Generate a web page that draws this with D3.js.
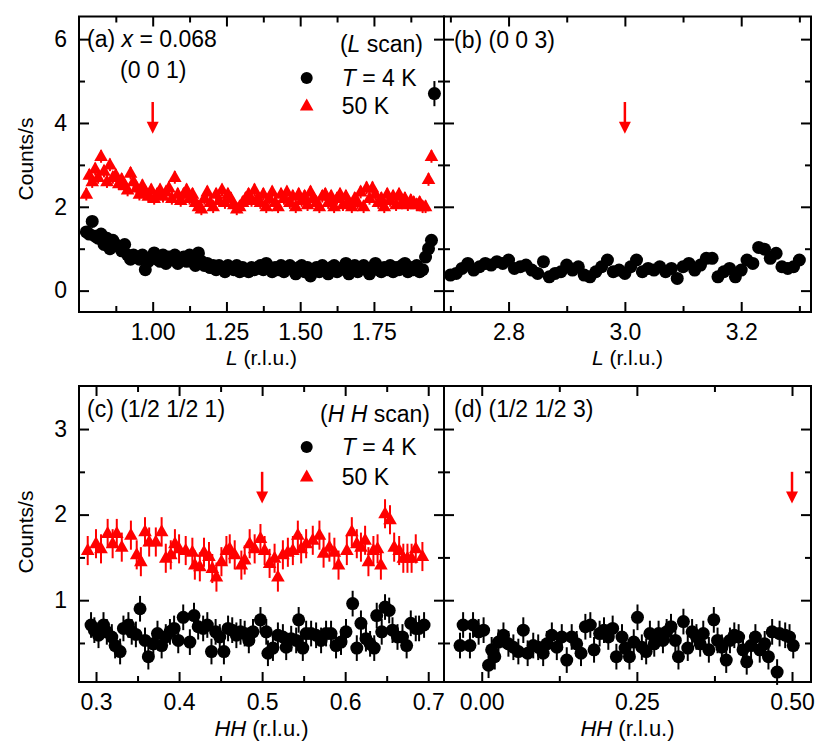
<!DOCTYPE html>
<html lang="en">
<head>
<meta charset="UTF-8">
<title>Counts vs L and HH</title>
<script src="https://d3js.org/d3.v7.min.js"></script>
<style>
  body { margin: 0; background: #fff; }
  svg text { font-family: "Liberation Sans", Arial, sans-serif; fill: #000; }
</style>
</head>
<body>
<svg id="chart" width="830" height="745"></svg>
<script>
// ---- data ----

// (a) L scan through (0 0 1), one point every 0.01 r.l.u. from L = 0.775
const aStart = 0.775, aStep = 0.01;
const a4K = [
  1.40, 1.35, 1.65, 1.30, 1.25, 1.35, 1.10, 1.25, 1.00, 1.20,
  1.10, 1.05, 0.95, 1.10, 0.85, 0.75, 0.85, 0.80, 0.75, 0.85,
  0.50, 0.70, 0.80, 0.90, 0.75, 0.70, 0.85, 0.65, 0.80, 0.75,
  0.85, 0.65, 0.75, 0.80, 0.70, 0.85, 0.70, 0.60, 0.90, 0.70,
  0.60, 0.65, 0.55, 0.60, 0.50, 0.60, 0.55, 0.45, 0.60, 0.55,
  0.50, 0.60, 0.45, 0.55, 0.50, 0.45, 0.55, 0.50, 0.55, 0.60,
  0.50, 0.65, 0.55, 0.45, 0.55, 0.50, 0.60, 0.45, 0.55, 0.60,
  0.50, 0.40, 0.55, 0.60, 0.45, 0.55, 0.35, 0.50, 0.55, 0.45,
  0.60, 0.50, 0.40, 0.55, 0.60, 0.45, 0.50, 0.55, 0.65, 0.40,
  0.50, 0.60, 0.45, 0.55, 0.60, 0.50, 0.40, 0.55, 0.65, 0.50,
  0.45, 0.55, 0.50, 0.60, 0.45, 0.55, 0.50, 0.60, 0.65, 0.45,
  0.55, 0.50, 0.60, 0.45, 0.50, 0.80, 1.00, 1.20, 4.70
];
const a50K = [
  2.30, 2.75, 2.60, 2.90, 2.70, 3.20, 2.85, 2.60, 3.00, 2.70,
  2.75, 2.55, 2.65, 2.50, 2.40, 2.80, 2.60, 2.45, 2.30, 2.50,
  2.35, 2.25, 2.40, 2.20, 2.30, 2.40, 2.25, 2.35, 2.45, 2.20,
  2.70, 2.30, 2.15, 2.30, 2.40, 2.20, 2.30, 2.10, 2.00, 1.95,
  2.20, 2.35, 2.10, 2.00, 2.30, 2.15, 2.40, 2.10, 2.30, 2.20,
  2.05, 1.95, 2.00, 2.10, 2.20, 2.30, 2.15, 2.40, 2.20, 2.10,
  2.30, 2.00, 2.20, 2.35, 2.10, 2.00, 2.30, 2.20, 2.35, 2.10,
  2.25, 2.00, 2.30, 2.15, 2.25, 2.05, 2.35, 2.20, 2.10, 2.00,
  2.25, 2.30, 2.10, 2.25, 2.00, 2.20, 2.30, 2.05, 2.25, 2.10,
  2.00, 2.20, 2.10, 2.35, 2.00, 2.45, 2.20, 2.45, 2.30, 2.10,
  2.20, 2.00, 2.30, 2.15, 2.25, 2.05, 2.30, 2.10, 2.20, 2.05,
  2.15, 2.10, 2.05, 2.10, 2.00, 2.00, 2.65, 3.20
];
const a4KErr = 0.12, a50KErr = 0.15;
const a4KBigErr = { 118: 0.3 }; // the stray last point

// (b) L scan through (0 0 3), 4 K only, every 0.01 r.l.u. from L = 2.70
const bStart = 2.70, bStep = 0.01;
const b4K = [
  0.37, 0.41, 0.53, 0.65, 0.49, 0.57, 0.65, 0.61, 0.69, 0.65,
  0.73, 0.53, 0.57, 0.61, 0.49, 0.41, 0.69, 0.33, 0.41, 0.45,
  0.61, 0.49, 0.57, 0.37, 0.33, 0.45, 0.57, 0.73, 0.45, 0.49,
  0.41, 0.57, 0.73, 0.45, 0.53, 0.49, 0.57, 0.45, 0.53, 0.29,
  0.57, 0.65, 0.49, 0.61, 0.77, 0.77, 0.33, 0.45, 0.53, 0.33,
  0.49, 0.73, 0.65, 1.03, 0.99, 0.77, 0.89, 0.57, 0.53, 0.57,
  0.73
];
const b4KErr = 0.1;

// (c) HH scan through (1/2 1/2 1): [HH, counts/s]
const c4K = [
  [0.294, 0.71], [0.298, 0.65], [0.303, 0.59], [0.309, 0.71], [0.313, 0.63],
  [0.319, 0.57], [0.323, 0.47], [0.329, 0.40], [0.333, 0.67], [0.339, 0.71],
  [0.343, 0.63], [0.348, 0.60], [0.353, 0.90], [0.359, 0.53], [0.363, 0.34],
  [0.369, 0.49], [0.374, 0.61], [0.379, 0.47], [0.384, 0.57], [0.389, 0.63],
  [0.394, 0.67], [0.399, 0.53], [0.405, 0.80], [0.413, 0.51], [0.418, 0.82],
  [0.423, 0.69], [0.429, 0.67], [0.434, 0.71], [0.439, 0.40], [0.444, 0.63],
  [0.449, 0.57], [0.454, 0.40], [0.459, 0.67], [0.464, 0.65], [0.469, 0.59],
  [0.474, 0.63], [0.479, 0.61], [0.484, 0.53], [0.489, 0.63], [0.498, 0.77],
  [0.505, 0.63], [0.507, 0.38], [0.513, 0.44], [0.519, 0.59], [0.525, 0.57],
  [0.529, 0.45], [0.535, 0.55], [0.541, 0.53], [0.544, 0.77], [0.549, 0.44],
  [0.553, 0.61], [0.559, 0.61], [0.565, 0.59], [0.571, 0.53], [0.577, 0.61],
  [0.583, 0.61], [0.589, 0.47], [0.595, 0.51], [0.601, 0.63], [0.609, 0.96],
  [0.614, 0.44], [0.619, 0.73], [0.625, 0.55], [0.630, 0.49], [0.635, 0.44],
  [0.638, 0.82], [0.644, 0.63], [0.648, 0.92], [0.653, 0.88], [0.657, 0.65],
  [0.663, 0.57], [0.669, 0.57], [0.674, 0.47], [0.679, 0.73], [0.685, 0.67],
  [0.689, 0.67], [0.695, 0.71]
];
const c50K = [
  [0.290, 1.58], [0.300, 1.66], [0.306, 1.60], [0.314, 1.78], [0.320, 1.66],
  [0.325, 1.78], [0.331, 1.62], [0.342, 1.76], [0.349, 1.53], [0.354, 1.45],
  [0.359, 1.80], [0.364, 1.68], [0.372, 1.68], [0.379, 1.80], [0.384, 1.49],
  [0.390, 1.53], [0.395, 1.66], [0.400, 1.60], [0.408, 1.58], [0.416, 1.56],
  [0.419, 1.41], [0.425, 1.39], [0.430, 1.56], [0.436, 1.51], [0.440, 1.37],
  [0.445, 1.27], [0.451, 1.45], [0.457, 1.58], [0.461, 1.60], [0.467, 1.53],
  [0.475, 1.41], [0.479, 1.47], [0.485, 1.66], [0.491, 1.60], [0.498, 1.72],
  [0.503, 1.58], [0.509, 1.43], [0.515, 1.49], [0.519, 1.27], [0.525, 1.53],
  [0.531, 1.56], [0.537, 1.58], [0.543, 1.76], [0.547, 1.60], [0.553, 1.66],
  [0.561, 1.70], [0.569, 1.76], [0.574, 1.55], [0.581, 1.62], [0.587, 1.56],
  [0.592, 1.41], [0.602, 1.58], [0.608, 1.80], [0.614, 1.66], [0.619, 1.62],
  [0.624, 1.70], [0.628, 1.45], [0.634, 1.58], [0.639, 1.60], [0.643, 1.41],
  [0.648, 2.01], [0.654, 1.94], [0.659, 1.62], [0.665, 1.58], [0.670, 1.49],
  [0.675, 1.49], [0.680, 1.49], [0.685, 1.60], [0.693, 1.51]
];
const c4KErr = 0.15, c50KErr = 0.17;

// (d) HH scan through (1/2 1/2 3), 4 K only: [HH, counts/s]
const d4K = [
  [-0.035, 0.47], [-0.030, 0.71], [-0.019, 0.47], [-0.014, 0.71], [-0.005, 0.63],
  [0.003, 0.65], [0.011, 0.24], [0.016, 0.42], [0.021, 0.34], [0.027, 0.51],
  [0.035, 0.59], [0.043, 0.49], [0.051, 0.45], [0.059, 0.40], [0.067, 0.65],
  [0.074, 0.38], [0.083, 0.47], [0.091, 0.45], [0.099, 0.38], [0.105, 0.49],
  [0.113, 0.59], [0.121, 0.45], [0.129, 0.57], [0.137, 0.30], [0.145, 0.57],
  [0.153, 0.49], [0.160, 0.38], [0.167, 0.69], [0.175, 0.71], [0.181, 0.42],
  [0.190, 0.61], [0.197, 0.65], [0.204, 0.57], [0.211, 0.67], [0.217, 0.34],
  [0.226, 0.57], [0.231, 0.44], [0.238, 0.34], [0.245, 0.51], [0.251, 0.80],
  [0.258, 0.45], [0.265, 0.40], [0.271, 0.61], [0.278, 0.49], [0.285, 0.61],
  [0.292, 0.53], [0.298, 0.63], [0.305, 0.69], [0.312, 0.53], [0.317, 0.34],
  [0.325, 0.75], [0.332, 0.44], [0.339, 0.63], [0.346, 0.57], [0.352, 0.49],
  [0.357, 0.61], [0.366, 0.42], [0.374, 0.77], [0.380, 0.53], [0.387, 0.45],
  [0.394, 0.30], [0.400, 0.53], [0.407, 0.59], [0.414, 0.57], [0.421, 0.42],
  [0.427, 0.28], [0.434, 0.47], [0.441, 0.57], [0.448, 0.42], [0.456, 0.49],
  [0.462, 0.34], [0.468, 0.63], [0.476, 0.16], [0.480, 0.61], [0.489, 0.59],
  [0.496, 0.57], [0.502, 0.47]
];
const d4KErr = 0.15;

// red arrows: [position, top of shaft, tip] in data units
const arrowA = [1.0, 4.5, 3.74];
const arrowB = [3.0, 4.5, 3.74];
const arrowC = [0.5, 2.5, 2.13];
const arrowD = [0.5, 2.5, 2.13];

// tick values
const aTicks = [1.00, 1.25, 1.50, 1.75], aMinor = [0.875, 1.125, 1.375, 1.625, 1.875];
const bTicks = [2.8, 3.0, 3.2], bMinor = [2.7, 2.9, 3.1, 3.3];
const cTicks = [0.3, 0.4, 0.5, 0.6, 0.7], cMinor = [0.35, 0.45, 0.55, 0.65];
const dTicks = [0.00, 0.25, 0.50], dMinor = [0.125, 0.375];
const topYTicks = [0, 2, 4, 6], topYMinor = [1, 3, 5];
const botYTicks = [1, 2, 3], botYMinor = [0.5, 1.5, 2.5];

// ---- drawing ----
const svg = d3.select('#chart');
const RED = '#ff0000';
const triPath = 'M0,-7.5L6.8,4.5L-6.8,4.5Z';
const R = 6.5;

function addAxis(axisFn, scale, transform, major, minor, fmt, pad) {
  const ax = axisFn(scale).tickValues(major).tickSize(-10).tickPadding(pad)
    .tickFormat(fmt ? d3.format(fmt) : '');
  const g = svg.append('g').attr('transform', transform).call(ax);
  const axm = axisFn(scale).tickValues(minor).tickSize(-6).tickFormat('');
  const gm = svg.append('g').attr('transform', transform).call(axm);
  [g, gm].forEach(s => {
    s.select('.domain').remove();
    s.selectAll('line').attr('stroke', '#000').attr('stroke-width', 2);
    s.selectAll('text').attr('font-size', 23).attr('fill', '#000')
      .style('font-family', '"Liberation Sans", Arial, sans-serif');
  });
}

function drawPanel(p) {
  const x = d3.scaleLinear().domain(p.xDomain).range([p.left, p.right]);
  const y = d3.scaleLinear().domain(p.yDomain).range([p.bottom, p.top]);

  addAxis(d3.axisBottom, x, `translate(0,${p.bottom})`, p.xTicks, p.xMinor, p.xFmt, p.xPad);
  addAxis(d3.axisTop, x, `translate(0,${p.top})`, p.xTicks, p.xMinor, null, 0);
  addAxis(d3.axisLeft, y, `translate(${p.left},0)`, p.yTicks, p.yMinor, p.yFmt, 12);
  addAxis(d3.axisRight, y, `translate(${p.right},0)`, p.yTicks, p.yMinor, null, 0);

  // series: error bars first, then markers
  p.series.forEach(s => {
    const g = svg.append('g');
    g.selectAll('line.err').data(s.pts).join('line')
      .attr('class', 'err')
      .attr('x1', d => x(d[0])).attr('x2', d => x(d[0]))
      .attr('y1', d => y(d[1] - d[2])).attr('y2', d => y(d[1] + d[2]))
      .attr('stroke', s.color).attr('stroke-width', 2);
    if (s.shape === 'circle') {
      g.selectAll('circle').data(s.pts).join('circle')
        .attr('cx', d => x(d[0])).attr('cy', d => y(d[1]))
        .attr('r', R).attr('fill', s.color);
    } else {
      g.selectAll('path').data(s.pts).join('path')
        .attr('d', triPath)
        .attr('transform', d => `translate(${x(d[0])},${y(d[1])})`)
        .attr('fill', s.color);
    }
  });

  // arrow
  const [ax, ay0, ay1] = p.arrow;
  const tipY = y(ay1);
  svg.append('line')
    .attr('x1', x(ax)).attr('x2', x(ax))
    .attr('y1', y(ay0)).attr('y2', tipY - 10)
    .attr('stroke', RED).attr('stroke-width', 2.5);
  svg.append('path')
    .attr('d', `M${x(ax) - 6},${tipY - 12}L${x(ax) + 6},${tipY - 12}L${x(ax)},${tipY}Z`)
    .attr('fill', RED);

  // frame
  svg.append('rect')
    .attr('x', p.left).attr('y', p.top)
    .attr('width', p.right - p.left).attr('height', p.bottom - p.top)
    .attr('fill', 'none').attr('stroke', '#000').attr('stroke-width', 2);
}

const grid = (vals, start, step, err, big) =>
  vals.map((v, i) => [start + i * step, v, (big && big[i]) || err]);
const withErr = (pts, err) => pts.map(d => [d[0], d[1], err]);

const topY = { top: 16.5, bottom: 312, yDomain: [-0.51, 6.54], yTicks: topYTicks, yMinor: topYMinor, xPad: 11.5 };
const botY = { top: 386, bottom: 682, yDomain: [0.044, 3.503], yTicks: botYTicks, yMinor: botYMinor, xPad: 12 };

drawPanel(Object.assign({}, topY, {
  left: 79, right: 444, xDomain: [0.7502, 1.9875], xTicks: aTicks, xMinor: aMinor, xFmt: '.2f', yFmt: 'd',
  arrow: arrowA,
  series: [
    { pts: grid(a50K, aStart, aStep, a50KErr), color: RED, shape: 'tri' },
    { pts: grid(a4K, aStart, aStep, a4KErr, a4KBigErr), color: '#000', shape: 'circle' }
  ]
}));
drawPanel(Object.assign({}, topY, {
  left: 444, right: 811, xDomain: [2.689, 3.32], xTicks: bTicks, xMinor: bMinor, xFmt: '.1f', yFmt: null,
  arrow: arrowB,
  series: [{ pts: grid(b4K, bStart, bStep, b4KErr), color: '#000', shape: 'circle' }]
}));
drawPanel(Object.assign({}, botY, {
  left: 79, right: 444, xDomain: [0.2795, 0.719], xTicks: cTicks, xMinor: cMinor, xFmt: '.1f', yFmt: 'd',
  arrow: arrowC,
  series: [
    { pts: withErr(c50K, c50KErr), color: RED, shape: 'tri' },
    { pts: withErr(c4K, c4KErr), color: '#000', shape: 'circle' }
  ]
}));
drawPanel(Object.assign({}, botY, {
  left: 444, right: 811, xDomain: [-0.0608, 0.5306], xTicks: dTicks, xMinor: dMinor, xFmt: '.2f', yFmt: null,
  arrow: arrowD,
  series: [{ pts: withErr(d4K, d4KErr), color: '#000', shape: 'circle' }]
}));

// ---- labels ----
function label(x, y, parts, anchor, size) {
  const t = svg.append('text').attr('x', x).attr('y', y).attr('font-size', size || 23)
    .attr('text-anchor', anchor || 'start');
  parts.forEach(pt => {
    const ts = t.append('tspan').text(pt[0]);
    if (pt[1]) ts.attr('font-style', 'italic');
  });
  return t;
}

// axis titles
[159, 532].forEach(cy => {
  svg.append('text').attr('transform', `translate(33,${cy}) rotate(-90)`)
    .attr('text-anchor', 'middle').attr('font-size', 21).text('Counts/s');
});
label(261.5, 365, [['L', 1], [' (r.l.u.)']], 'middle', 21);
label(627.5, 365, [['L', 1], [' (r.l.u.)']], 'middle', 21);
label(261.5, 736, [['HH', 1], [' (r.l.u.)']], 'middle', 22);
label(627.5, 736, [['HH', 1], [' (r.l.u.)']], 'middle', 22);

// panel annotations
label(87, 47, [['(a) '], ['x', 1], [' = 0.068']]);
label(120, 78, [['(0 0 1)']]);
label(423, 52, [['('], ['L', 1], [' scan)']], 'end');
label(454, 48, [['(b) (0 0 3)']]);
label(87, 417, [['(c) (1/2 1/2 1)']]);
label(430, 422, [['('], ['H H', 1], [' scan)']], 'end');
label(454, 417, [['(d) (1/2 1/2 3)']]);

// legends
[[78, 106], [447, 477]].forEach(([yc, yt]) => {
  svg.append('circle').attr('cx', 306.7).attr('cy', yc).attr('r', 6).attr('fill', '#000');
  label(341.7, yc + 8, [['T', 1], [' = 4 K']]);
  svg.append('path').attr('d', triPath).attr('transform', `translate(306.7,${yt})`).attr('fill', RED);
  label(341.7, yt + 8, [['50 K']]);
});
</script>
</body>
</html>
